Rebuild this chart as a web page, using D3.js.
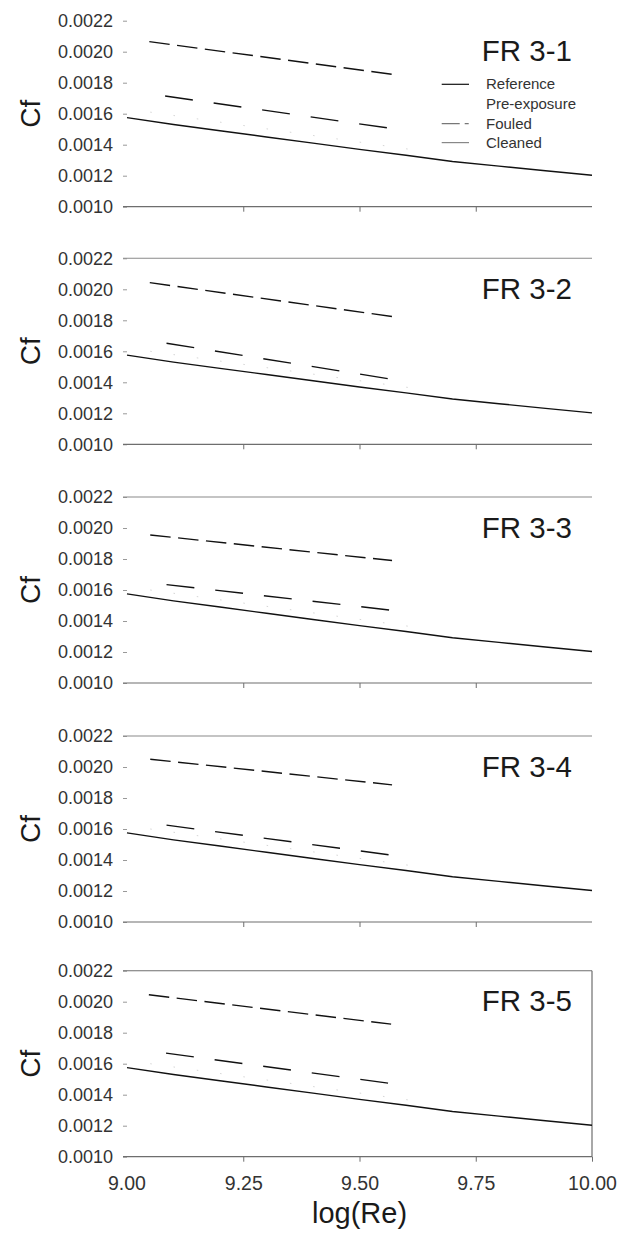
<!DOCTYPE html>
<html>
<head>
<meta charset="utf-8">
<script src="https://cdn.jsdelivr.net/npm/d3@7"></script>
<style>
  html, body { margin: 0; padding: 0; background: #fff; }
  svg { display: block; font-family: "Liberation Sans", Arial, sans-serif; }
</style>
</head>
<body>
<svg id="chart" width="627" height="1233"></svg>
<script>
// ---------------- data ----------------
const panelNames = ["FR 3-1", "FR 3-2", "FR 3-3", "FR 3-4", "FR 3-5"];

const yTickValues = [0.0010, 0.0012, 0.0014, 0.0016, 0.0018, 0.0020, 0.0022];
const xTickValues = [9.00, 9.25, 9.50, 9.75, 10.00];
const xTickLabels = ["9.00", "9.25", "9.50", "9.75", "10.00"];

// Reference line (same in every panel)
const refLogRe = [9.0, 9.1, 9.2, 9.3, 9.4, 9.5, 9.6, 9.7, 9.8, 9.9, 10.0];
const refCf    = [0.001575, 0.001530, 0.001490, 0.001450, 0.001410, 0.001370,
                  0.001332, 0.001292, 0.001262, 0.001232, 0.001203];

// Fouled (upper long-dash line), start/end per panel
const fouledStartLogRe = [9.048, 9.049, 9.050, 9.050, 9.047];
const fouledEndLogRe   = [9.571, 9.573, 9.570, 9.570, 9.568];
const fouledStartCf    = [0.002065, 0.002043, 0.001955, 0.002050, 0.002045];
const fouledEndCf      = [0.001854, 0.001823, 0.001790, 0.001885, 0.001855];

// Cleaned (middle dashed line), start/end per panel
const cleanedStartLogRe = [9.082, 9.085, 9.085, 9.085, 9.084];
const cleanedEndLogRe   = [9.566, 9.567, 9.567, 9.567, 9.568];
const cleanedStartCf    = [0.001714, 0.001652, 0.001635, 0.001625, 0.001668];
const cleanedEndCf      = [0.001506, 0.001421, 0.001470, 0.001432, 0.001472];

// Pre-exposure (barely visible, faint)
const preStartLogRe = [9.05, 9.05, 9.05, 9.05, 9.05];
const preEndLogRe   = [9.62, 9.62, 9.62, 9.62, 9.62];
const preStartCf    = [0.001610, 0.001600, 0.001600, 0.001600, 0.001600];
const preEndCf      = [0.001365, 0.001360, 0.001360, 0.001360, 0.001360];

const legendLabels = ["Reference", "Pre-exposure", "Fouled", "Cleaned"];

// ---------------- layout ----------------
const svg = d3.select("#chart");
const panelTops = [20.7, 258.3, 497, 736, 970.7];
const panelH = 186;
const x = d3.scaleLinear().domain([9, 10]).range([127, 592]);
const axisGray = "#6e6e6e";
const topGray = "#8a8a8a";

const line = d3.line().x(d => x(d[0]));

panelNames.forEach((name, i) => {
  const top = panelTops[i];
  const y = d3.scaleLinear().domain([0.0010, 0.0022]).range([top + panelH, top]);
  line.y(d => y(d[1]));
  const g = svg.append("g");

  // y axis (ticks + labels, no spine)
  const ya = g.append("g")
    .attr("transform", `translate(${x(9)},0)`)
    .call(d3.axisLeft(y).tickValues(yTickValues).tickSize(4).tickPadding(10)
      .tickFormat(d3.format(".4f")));
  ya.select(".domain").remove();
  ya.selectAll(".tick line").attr("stroke", "#999");
  ya.selectAll(".tick text")
    .attr("font-size", 18).attr("fill", "#333")
    .attr("font-family", "Liberation Sans, Arial, sans-serif");

  // x ticks
  const last = i === panelNames.length - 1;
  const xa = g.append("g")
    .attr("transform", `translate(0,${top + panelH})`)
    .call(d3.axisBottom(x)
      .tickValues(last ? xTickValues.slice(1) : xTickValues.slice(1, 4))
      .tickSize(5).tickPadding(14)
      .tickFormat(d => xTickLabels[xTickValues.indexOf(d)]));
  xa.select(".domain").remove();
  xa.selectAll(".tick line").attr("stroke", axisGray);
  if (last) {
    xa.selectAll(".tick text").attr("font-size", 19.5).attr("fill", "#333")
      .attr("font-family", "Liberation Sans, Arial, sans-serif");
    g.append("text")
      .attr("x", x(9.0)).attr("y", top + panelH + 33)
      .attr("text-anchor", "middle").attr("font-size", 19.5).attr("fill", "#333")
      .text(xTickLabels[0]);
  } else {
    xa.selectAll(".tick text").remove();
  }

  // bottom line
  g.append("line")
    .attr("x1", x(9) - 4).attr("x2", x(10))
    .attr("y1", y(0.0010)).attr("y2", y(0.0010))
    .attr("stroke", axisGray).attr("stroke-width", 1.2);
  // top line (panels 2..5)
  if (i > 0) {
    g.append("line")
      .attr("x1", x(9) - 4).attr("x2", x(10))
      .attr("y1", y(0.0022)).attr("y2", y(0.0022))
      .attr("stroke", last ? axisGray : topGray).attr("stroke-width", 1.1);
  }
  // right border on last panel
  if (last) {
    g.append("line")
      .attr("x1", x(10)).attr("x2", x(10))
      .attr("y1", y(0.0022)).attr("y2", y(0.0010))
      .attr("stroke", axisGray).attr("stroke-width", 1.2);
  }

  // Pre-exposure faint
  g.append("path")
    .datum([[preStartLogRe[i], preStartCf[i]], [preEndLogRe[i], preEndCf[i]]])
    .attr("d", line).attr("fill", "none")
    .attr("stroke", "#d6d6d6").attr("stroke-width", 1)
    .attr("stroke-dasharray", "1.5 22");

  // Reference
  g.append("path")
    .datum(refLogRe.map((v, k) => [v, refCf[k]]))
    .attr("d", line).attr("fill", "none")
    .attr("stroke", "#111").attr("stroke-width", 1.4);

  // Fouled
  g.append("path")
    .datum([[fouledStartLogRe[i], fouledStartCf[i]], [fouledEndLogRe[i], fouledEndCf[i]]])
    .attr("d", line).attr("fill", "none")
    .attr("stroke", "#111").attr("stroke-width", 1.4)
    .attr("stroke-dasharray", "20.5 7.5");

  // Cleaned
  g.append("path")
    .datum([[cleanedStartLogRe[i], cleanedStartCf[i]], [cleanedEndLogRe[i], cleanedEndCf[i]]])
    .attr("d", line).attr("fill", "none")
    .attr("stroke", "#111").attr("stroke-width", 1.4)
    .attr("stroke-dasharray", "28 21");

  // Panel title
  g.append("text")
    .attr("x", 572).attr("y", top + 40.5)
    .attr("text-anchor", "end").attr("font-size", 29.5).attr("fill", "#1a1a1a")
    .text(name);

  // Cf label
  g.append("text")
    .attr("transform", `translate(40,${top + panelH / 2}) rotate(-90)`)
    .attr("text-anchor", "middle").attr("font-size", 28).attr("fill", "#1a1a1a")
    .text("Cf");

  // Legend in first panel
  if (i === 0) {
    const lx1 = 441.7, lx2 = 469, tx = 486;
    const rows = [89.3, 109, 128.7, 147.6];
    const styles = [
      { stroke: "#111", dash: null },
      null,
      { stroke: "#777", dash: "18 5 4 100" },
      { stroke: "#888", dash: null }
    ];
    legendLabels.forEach((lab, k) => {
      if (styles[k]) {
        g.append("line")
          .attr("x1", lx1).attr("x2", lx2)
          .attr("y1", rows[k] - 5).attr("y2", rows[k] - 5)
          .attr("stroke", styles[k].stroke).attr("stroke-width", 1.2)
          .attr("stroke-dasharray", styles[k].dash);
      }
      g.append("text")
        .attr("x", tx).attr("y", rows[k])
        .attr("font-size", 15).attr("fill", "#333")
        .text(lab);
    });
  }
});

// x axis title
svg.append("text")
  .attr("x", x(9.5)).attr("y", 1223)
  .attr("text-anchor", "middle").attr("font-size", 29).attr("fill", "#1a1a1a")
  .text("log(Re)");
</script>
</body>
</html>
